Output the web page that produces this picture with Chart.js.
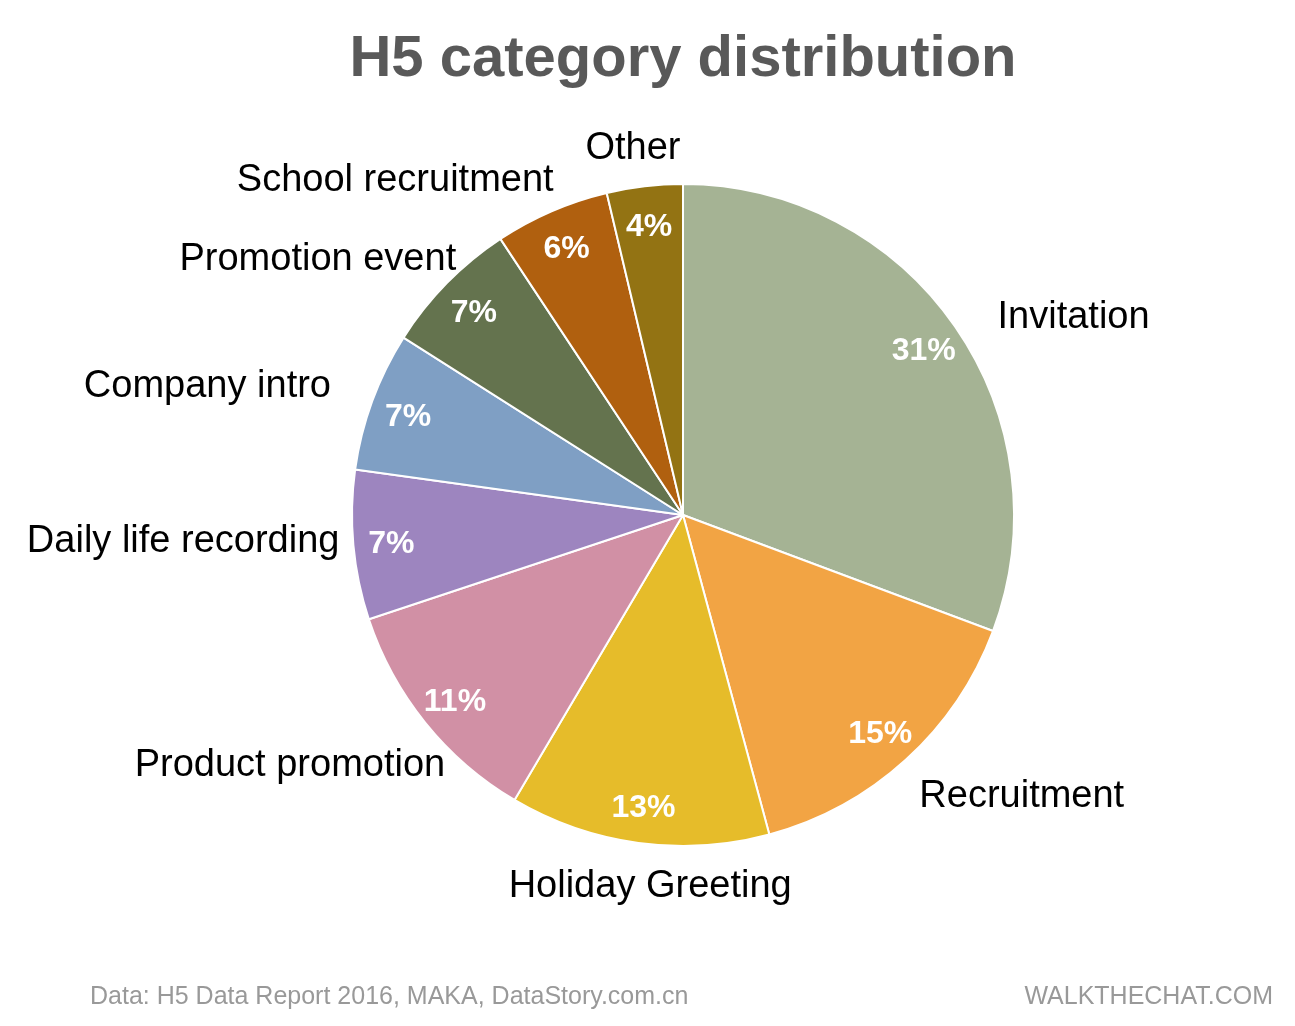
<!DOCTYPE html>
<html>
<head>
<meta charset="utf-8">
<script src="https://cdn.jsdelivr.net/npm/chart.js@4.4.1/dist/chart.umd.min.js"></script>
<style>
  html, body { margin: 0; padding: 0; background: #ffffff; }
  #wrap { position: relative; width: 1295px; height: 1026px; }
</style>
</head>
<body>
<div id="wrap"><canvas id="c" width="1295" height="1026"></canvas></div>
<script>
const titleText = 'H5 category distribution';
const categories = ['Invitation', 'Recruitment', 'Holiday Greeting', 'Product promotion', 'Daily life recording', 'Company intro', 'Promotion event', 'School recruitment', 'Other'];
const shares = [30.7, 15.1, 12.7, 11.4, 7.3, 6.8, 6.7, 5.6, 3.7];
const colors = ['#A5B394', '#F2A444', '#E6BC2A', '#D190A5', '#9D85BF', '#7F9FC4', '#64734E', '#B0600F', '#937313'];
const sourceText = 'Data: H5 Data Report 2016, MAKA, DataStory.com.cn';
const brandText = 'WALKTHECHAT.COM';
// layout of the outer labels: radial gap beyond the pie edge and a small nudge (px)
const labelGaps = [42, 35, 39, 13, 14, 44, 12, 30, 40];
const labelNudgeX = [8, -10, 17, 30, 0, 0, 18, 14, -7];
const labelNudgeY = [15, 11, 5, 35, -5, 1, -15, -3, 2];

const FONT = '"Liberation Sans", Arial, Helvetica, sans-serif';

const labelPlugin = {
  id: 'pieLabels',
  afterDraw(chart) {
    const ctx = chart.ctx;
    const meta = chart.getDatasetMeta(0);
    const total = shares.reduce((a, b) => a + b, 0);
    ctx.save();
    meta.data.forEach((arc, i) => {
      const p = arc.getProps(['x', 'y', 'startAngle', 'endAngle', 'outerRadius'], true);
      const mid = (p.startAngle + p.endAngle) / 2;
      const ux = Math.cos(mid), uy = Math.sin(mid);
      // inner percentage
      const ri = p.outerRadius * 0.885;
      ctx.fillStyle = '#ffffff';
      ctx.font = 'bold 32px ' + FONT;
      ctx.textAlign = 'center';
      ctx.textBaseline = 'middle';
      ctx.fillText(Math.round(shares[i] / total * 100) + '%', p.x + ux * ri, p.y + uy * ri + 3);
      // outer category label
      const ro = p.outerRadius + labelGaps[i];
      const lx = p.x + ux * ro + labelNudgeX[i], ly = p.y + uy * ro + labelNudgeY[i];
      ctx.fillStyle = '#000000';
      ctx.font = '38px ' + FONT;
      ctx.textAlign = ux > 0.3 ? 'left' : (ux < -0.3 ? 'right' : 'center');
      ctx.fillText(categories[i], lx, ly);
    });
    // title
    ctx.fillStyle = '#595959';
    ctx.font = 'bold 58px ' + FONT;
    ctx.textAlign = 'center';
    ctx.textBaseline = 'alphabetic';
    ctx.fillText(titleText, 683, 76);
    // footer
    ctx.fillStyle = '#999999';
    ctx.font = '25px ' + FONT;
    ctx.textAlign = 'left';
    ctx.fillText(sourceText, 90, 1004);
    ctx.textAlign = 'right';
    ctx.fillText(brandText, 1273, 1004);
    ctx.restore();
  }
};

new Chart(document.getElementById('c'), {
  type: 'pie',
  data: {
    labels: categories,
    datasets: [{
      data: shares,
      backgroundColor: colors,
      borderColor: '#ffffff',
      borderWidth: 2
    }]
  },
  options: {
    responsive: false,
    animation: false,
    layout: { padding: { left: 351, right: 280, top: 183, bottom: 179 } },
    plugins: {
      legend: { display: false },
      tooltip: { enabled: false },
      title: { display: false }
    }
  },
  plugins: [labelPlugin]
});
</script>
</body>
</html>
